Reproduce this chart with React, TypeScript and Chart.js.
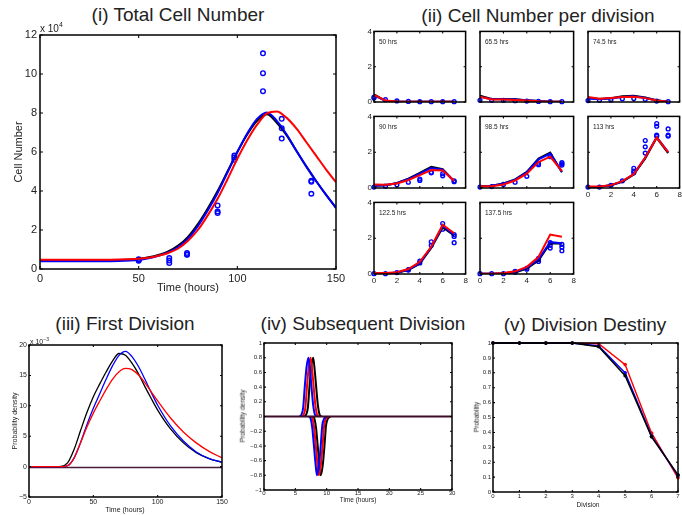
import React, { useEffect, useRef } from 'react';
import { Chart, registerables } from 'chart.js';
Chart.register(...registerables);

const FONT = '"Liberation Sans", Arial, Helvetica, sans-serif';
const BLUE = '#0000ff';
const RED = '#ff0000';
const BLACK = '#000000';
const TXT = '#222222';

// ---------- (i) Total Cell Number (units of 1e4) ----------
const totalTime = [0, 10, 20, 30, 40, 50, 55, 60, 65, 70, 75, 80, 85, 90, 95, 100, 105, 110, 115, 120, 125, 130, 135, 140, 145, 150];
const totalBlack = [0.45, 0.45, 0.45, 0.45, 0.46, 0.52, 0.6, 0.72, 0.9, 1.2, 1.65, 2.3, 3.1, 4.0, 5.0, 6.0, 6.9, 7.6, 7.93, 7.5, 6.85, 6.05, 5.25, 4.5, 3.8, 3.15];
const totalBlue = [0.4, 0.4, 0.4, 0.4, 0.41, 0.47, 0.55, 0.68, 0.85, 1.12, 1.55, 2.2, 3.0, 3.9, 4.95, 6.0, 6.95, 7.7, 8.03, 7.6, 6.9, 6.05, 5.25, 4.5, 3.8, 3.12];
const totalRed = [0.48, 0.48, 0.48, 0.48, 0.49, 0.53, 0.58, 0.68, 0.82, 1.05, 1.45, 2.0, 2.75, 3.6, 4.6, 5.65, 6.6, 7.4, 7.98, 8.08, 7.75, 7.2, 6.5, 5.8, 5.1, 4.45];
const obsTime = [50, 65.5, 74.5, 90, 98.5, 113, 122.5, 137.5];
const obsTotal = [
  [0.5, 0.45, 0.42],
  [0.56, 0.43, 0.31],
  [0.82, 0.73, 0.75],
  [3.26, 2.95, 2.87],
  [5.82, 5.72, 5.6],
  [11.06, 10.04, 9.12],
  [7.7, 7.22, 6.69],
  [4.52, 4.47, 3.86],
];

// ---------- (ii) Cell Number per division ----------
const divisions = [0, 1, 2, 3, 4, 5, 6, 7];
const perDivLabels = ['50 hrs', '65.5 hrs', '74.5 hrs', '90 hrs', '98.5 hrs', '113 hrs', '122.5 hrs', '137.5 hrs'];
const perDivBlack = [
  [0.43, 0.06, 0.02, 0.02, 0.02, 0.02, 0.02, 0.02],
  [0.35, 0.17, 0.17, 0.15, 0.1, 0.05, 0.02, 0.01],
  [0.22, 0.17, 0.22, 0.32, 0.35, 0.25, 0.1, 0.02],
  [0.12, 0.15, 0.28, 0.52, 0.85, 1.18, 1.05, 0.38],
  [0.1, 0.12, 0.25, 0.48, 0.9, 1.65, 1.98, 0.88],
  [0.05, 0.07, 0.15, 0.35, 0.75, 1.65, 2.8, 1.95],
  [0.02, 0.03, 0.07, 0.22, 0.58, 1.45, 2.6, 2.15],
  [0.02, 0.02, 0.03, 0.08, 0.3, 0.75, 1.72, 1.7],
];
const perDivBlue = [
  [0.38, 0.07, 0.02, 0.02, 0.02, 0.02, 0.02, 0.02],
  [0.3, 0.15, 0.15, 0.14, 0.1, 0.05, 0.02, 0.01],
  [0.2, 0.15, 0.2, 0.28, 0.32, 0.23, 0.09, 0.02],
  [0.12, 0.15, 0.27, 0.5, 0.8, 1.12, 1.02, 0.38],
  [0.1, 0.12, 0.24, 0.46, 0.88, 1.6, 1.92, 0.9],
  [0.05, 0.07, 0.15, 0.37, 0.78, 1.7, 2.85, 2.0],
  [0.02, 0.03, 0.08, 0.24, 0.62, 1.5, 2.68, 2.2],
  [0.02, 0.02, 0.04, 0.12, 0.34, 0.82, 1.78, 1.72],
];
const perDivRed = [
  [0.4, 0.08, 0.03, 0.02, 0.02, 0.02, 0.02, 0.02],
  [0.3, 0.14, 0.14, 0.12, 0.08, 0.04, 0.02, 0.01],
  [0.28, 0.18, 0.22, 0.28, 0.3, 0.22, 0.08, 0.02],
  [0.2, 0.18, 0.25, 0.45, 0.72, 1.0, 0.98, 0.4],
  [0.1, 0.1, 0.2, 0.42, 0.8, 1.45, 1.75, 0.95],
  [0.08, 0.08, 0.16, 0.38, 0.78, 1.7, 2.82, 2.0],
  [0.05, 0.05, 0.1, 0.28, 0.68, 1.52, 2.75, 2.28],
  [0.02, 0.02, 0.05, 0.15, 0.4, 0.95, 2.2, 2.08],
];
const perDivObs = [
  [[0.28, 0.22], [0.13], [0.06], [0.03], [0.02], [0.02], [0.02], [0.02]],
  [[0.1], [0.1], [0.1], [0.07], [0.05], [0.03], [0.02], [0.02]],
  [[0.08], [0.1], [0.12], [0.18], [0.2], [0.15], [0.05], [0.02]],
  [[0.05], [0.1], [0.18], [0.32], [0.5, 0.42], [0.88, 0.85], [0.8, 0.68], [0.4, 0.35]],
  [[0.05], [0.08], [0.2], [0.32], [0.65], [1.38, 1.3], [1.8, 1.75], [1.42, 1.35, 1.28]],
  [[0.05], [0.05], [0.15], [0.4], [1.1, 0.95, 0.85], [2.65, 2.3, 1.95], [3.6, 3.45, 2.95, 2.9], [3.3, 2.95, 2.9]],
  [[0.02], [0.02], [0.08], [0.25, 0.22], [0.72, 0.62], [1.8, 1.6], [2.82, 2.5], [2.2, 2.1, 1.75]],
  [[0.02], [0.02], [0.02], [0.15, 0.1], [0.32, 0.27], [0.88, 0.8, 0.7], [1.75, 1.6, 1.45], [1.65, 1.5, 1.3]],
];

// ---------- (iii) First Division (units of 1e-3) ----------
const firstTime = [0, 20, 25, 30, 35, 40, 45, 50, 55, 60, 65, 70, 75, 80, 85, 90, 95, 100, 110, 120, 130, 140, 150];
const firstBlack = [0, 0, 0.05, 0.6, 2.8, 5.9, 8.9, 11.5, 13.6, 15.6, 17.4, 18.6, 18.3, 17.0, 15.3, 13.2, 11.2, 9.3, 6.2, 3.9, 2.3, 1.3, 0.7];
const firstBlue = [0, 0, 0, 0.15, 1.4, 3.9, 6.9, 9.6, 12.0, 14.4, 16.6, 18.3, 18.95, 18.1, 16.5, 14.4, 12.2, 10.1, 6.7, 4.2, 2.4, 1.3, 0.7];
const firstRed = [0, 0, 0, 0.15, 1.4, 3.9, 6.5, 8.8, 10.8, 12.7, 14.4, 15.6, 16.15, 15.95, 15.1, 13.8, 12.3, 10.8, 8.0, 5.7, 3.9, 2.5, 1.45];
const firstBaseTime = [0, 150];
const firstBaseline = [-0.15, -0.15];

// ---------- (iv) Subsequent Division ----------
const subUpY = [0, 0.03, 0.12, 0.4, 0.68, 0.8, 0.62, 0.38, 0.15, 0.03, 0];
const subDownY = [0, -0.03, -0.15, -0.38, -0.62, -0.8, -0.68, -0.4, -0.12, -0.03, 0];
const subBlueUpT = [5.7, 6.0, 6.25, 6.5, 6.8, 7.1, 7.35, 7.6, 7.85, 8.1, 8.4];
const subRedUpT = [6.05, 6.35, 6.6, 6.85, 7.15, 7.45, 7.7, 7.95, 8.2, 8.45, 8.75];
const subBlackUpT = [6.45, 6.75, 7.0, 7.25, 7.55, 7.85, 8.1, 8.35, 8.6, 8.85, 9.15];
const subBlueDownT = [7.15, 7.45, 7.7, 7.95, 8.2, 8.45, 8.75, 9.05, 9.3, 9.6, 10.0];
const subRedDownT = [7.45, 7.75, 8.0, 8.25, 8.5, 8.75, 9.05, 9.35, 9.6, 9.9, 10.3];
const subBlackDownT = [7.75, 8.05, 8.3, 8.55, 8.8, 9.05, 9.35, 9.65, 9.9, 10.2, 10.6];
const subBaseTime = [0, 30];
const subBaseline = [0, 0];

// ---------- (v) Division Destiny ----------
const destinyDiv = [0, 1, 2, 3, 4, 5, 6, 7];
const destinyBlack = [1, 1, 1, 1, 0.975, 0.78, 0.37, 0.115];
const destinyBlue = [1, 1, 1, 1, 0.98, 0.8, 0.375, 0.11];
const destinyRed = [1, 1, 1, 1, 0.995, 0.855, 0.395, 0.095];

// ---------- helpers ----------
const xy = (xs: number[], ys: number[]) => xs.map((x, i) => ({ x, y: ys[i] }));
const fmt = (v: number) => String(Math.round(v * 1000) / 1000).replace('-', '\u2212');

const line = (data: any[], color: string, width: number, smooth = true) => ({
  data,
  borderColor: color,
  backgroundColor: color,
  borderWidth: width,
  pointRadius: 0,
  fill: false,
  cubicInterpolationMode: smooth ? 'monotone' : 'default',
  tension: 0,
});
const circles = (data: any[], color: string, r: number, bw: number) => ({
  data,
  showLine: false,
  pointRadius: r,
  pointStyle: 'circle',
  pointBorderColor: color,
  pointBackgroundColor: 'rgba(0,0,0,0)',
  pointBorderWidth: bw,
  borderColor: color,
  clip: false,
});
const markerLine = (data: any[], color: string, width: number, r: number) => ({
  data,
  borderColor: color,
  backgroundColor: color,
  borderWidth: width,
  pointRadius: r,
  pointBackgroundColor: color,
  pointBorderColor: color,
  pointBorderWidth: 0,
  fill: false,
  tension: 0,
  clip: false,
});

const framePlugin = {
  id: 'frame',
  afterDatasetsDraw(chart: any, _args: any, opts: any) {
    const { ctx, chartArea: a, scales } = chart;
    ctx.save();
    ctx.strokeStyle = '#000';
    ctx.lineWidth = opts.lw || 1;
    const L = opts.tick || 0;
    if (L > 0) {
      ctx.beginPath();
      for (const t of scales.x.ticks) {
        const px = scales.x.getPixelForValue(t.value);
        ctx.moveTo(px, a.bottom); ctx.lineTo(px, a.bottom - L);
        ctx.moveTo(px, a.top); ctx.lineTo(px, a.top + L);
      }
      for (const t of scales.y.ticks) {
        const py = scales.y.getPixelForValue(t.value);
        ctx.moveTo(a.left, py); ctx.lineTo(a.left + L, py);
        ctx.moveTo(a.right, py); ctx.lineTo(a.right - L, py);
      }
      ctx.lineWidth = Math.max(1, (opts.lw || 1) * 0.7);
      ctx.stroke();
      ctx.lineWidth = opts.lw || 1;
    }
    ctx.strokeRect(a.left, a.top, a.right - a.left, a.bottom - a.top);
    ctx.restore();
  },
};

interface AxisSpec { min: number; max: number; step: number; show: boolean; }
interface PanelSpec {
  l: number; t: number; r: number; b: number;
  yW: number; xH: number; padT: number; padR: number;
  x: AxisSpec; y: AxisSpec;
  fs: number; xPad: number; yPad: number; tick: number; frameW: number;
  datasets: any[];
}

function makeAxis(a: AxisSpec, p: PanelSpec, horizontal: boolean) {
  return {
    type: 'linear',
    position: horizontal ? 'bottom' : 'left',
    min: a.min,
    max: a.max,
    ticks: {
      stepSize: a.step,
      display: a.show,
      autoSkip: false,
      maxRotation: 0,
      minRotation: 0,
      padding: horizontal ? p.xPad : p.yPad,
      color: TXT,
      font: { family: FONT, size: p.fs },
      callback: (v: number) => fmt(v),
    },
    grid: { display: false, drawTicks: false },
    border: { display: false },
    afterFit: (s: any) => {
      if (horizontal) s.height = p.xH; else s.width = p.yW;
      s.paddingLeft = 0; s.paddingRight = 0; s.paddingTop = 0; s.paddingBottom = 0;
    },
  };
}

function Plot({ p }: { p: PanelSpec }) {
  const ref = useRef<HTMLCanvasElement>(null);
  const W = p.r - p.l + p.yW + p.padR;
  const H = p.b - p.t + p.padT + p.xH;
  useEffect(() => {
    const chart = new Chart(ref.current as HTMLCanvasElement, {
      type: 'line',
      data: { datasets: p.datasets },
      plugins: [framePlugin],
      options: {
        responsive: false,
        maintainAspectRatio: false,
        animation: false,
        events: [],
        layout: { padding: { left: 0, top: p.padT, right: p.padR, bottom: 0 } },
        plugins: {
          legend: { display: false },
          tooltip: { enabled: false },
          frame: { tick: p.tick, lw: p.frameW },
        },
        scales: { x: makeAxis(p.x, p, true), y: makeAxis(p.y, p, false) },
      } as any,
    } as any);
    return () => chart.destroy();
  }, []);
  return (
    <canvas
      ref={ref}
      width={W}
      height={H}
      style={{ position: 'absolute', left: p.l - p.yW, top: p.t - p.padT, width: W, height: H }}
    />
  );
}

function Txt({ x, y, size, rotate, children, anchor }: any) {
  const tr = anchor === 'start' ? 'translate(0,-50%)' : 'translate(-50%,-50%)';
  return (
    <div
      style={{
        position: 'absolute',
        left: x,
        top: y,
        transform: rotate ? `${tr} rotate(-90deg)` : tr,
        fontFamily: FONT,
        fontSize: size,
        lineHeight: 1,
        whiteSpace: 'nowrap',
        color: TXT,
      }}
    >
      {children}
    </div>
  );
}

// ---------- panel specs ----------
const panelI: PanelSpec = {
  l: 40, t: 35, r: 336, b: 269, yW: 40, xH: 16, padT: 6, padR: 14,
  x: { min: 0, max: 150, step: 50, show: true },
  y: { min: 0, max: 12, step: 2, show: true },
  fs: 11, xPad: 3, yPad: 3, tick: 3, frameW: 1.5,
  datasets: [
    line(xy(totalTime, totalRed), RED, 2),
    line(xy(totalTime, totalBlue), BLUE, 2),
    line(xy(totalTime, totalBlack), BLACK, 2),
    circles(obsTime.flatMap((t, i) => obsTotal[i].map((v) => ({ x: t, y: v }))), BLUE, 2.3, 1.4),
  ],
};

const colsII = [[374, 467], [480, 575], [588, 681]];
const rowsII = [[31, 102], [116, 188], [202, 274]];
const panelsII: PanelSpec[] = perDivLabels.map((_, i) => {
  const row = Math.floor(i / 3);
  const col = i % 3;
  return {
    l: colsII[col][0], r: colsII[col][1], t: rowsII[row][0], b: rowsII[row][1],
    yW: 12, xH: 12, padT: 5, padR: 4,
    x: { min: 0, max: 8, step: 2, show: i >= 5 },
    y: { min: 0, max: 4, step: 2, show: col === 0 },
    fs: 8, xPad: 2, yPad: 2, tick: 2, frameW: 1.5,
    datasets: [
      line(xy(divisions, perDivRed[i]), RED, 2, false),
      line(xy(divisions, perDivBlue[i]), BLUE, 2, false),
      line(xy(divisions, perDivBlack[i]), BLACK, 2, false),
      circles(divisions.flatMap((d) => perDivObs[i][d].map((v) => ({ x: d, y: v }))), BLUE, 1.9, 1.4),
    ],
  };
});

const panelIII: PanelSpec = {
  l: 29, t: 345, r: 222, b: 497, yW: 29, xH: 10, padT: 4, padR: 6,
  x: { min: 0, max: 150, step: 50, show: true },
  y: { min: -5, max: 20, step: 5, show: true },
  fs: 7, xPad: 1, yPad: 2, tick: 2, frameW: 1.5,
  datasets: [
    line(xy(firstTime, firstRed), RED, 1.3),
    line(xy(firstTime, firstBlue), BLUE, 1.3),
    line(xy(firstTime, firstBlack), BLACK, 1.3),
    line(xy(firstBaseTime, firstBaseline), '#4a1a3a', 1.5, false),
  ],
};

const panelIV: PanelSpec = {
  l: 264, t: 343, r: 452, b: 490, yW: 22, xH: 10, padT: 4, padR: 6,
  x: { min: 0, max: 30, step: 5, show: true },
  y: { min: -1, max: 1, step: 0.2, show: true },
  fs: 6, xPad: 0, yPad: 2, tick: 2, frameW: 1.5,
  datasets: [
    line(xy(subBaseTime, subBaseline), '#3d0d2a', 2, false),
    line(xy(subBlueUpT, subUpY), BLUE, 2),
    line(xy(subBlueDownT, subDownY), BLUE, 2),
    line(xy(subRedUpT, subUpY), RED, 2),
    line(xy(subRedDownT, subDownY), RED, 2),
    line(xy(subBlackUpT, subUpY), BLACK, 2),
    line(xy(subBlackDownT, subDownY), BLACK, 2),
  ],
};

const panelV: PanelSpec = {
  l: 493, t: 343, r: 681, b: 492, yW: 20, xH: 10, padT: 4, padR: 1,
  x: { min: 0, max: 7, step: 1, show: true },
  y: { min: 0, max: 1, step: 0.1, show: true },
  fs: 6, xPad: 1, yPad: 2, tick: 2, frameW: 1.5,
  datasets: [
    markerLine(xy(destinyDiv, destinyBlack), BLACK, 1.5, 1.8),
    markerLine(xy(destinyDiv, destinyBlue), BLUE, 1.5, 1.8),
    markerLine(xy(destinyDiv, destinyRed), RED, 1.5, 1.8),
  ],
};

export default function App() {
  return (
    <div
      style={{
        position: 'fixed', left: 0, top: 0, width: 682, height: 515,
        background: '#fff', overflow: 'hidden',
      }}
    >
      <Txt x={178} y={14} size={19}>(i) Total Cell Number</Txt>
      <Txt x={538} y={15} size={19}>(ii) Cell Number per division</Txt>
      <Txt x={125} y={323} size={19}>(iii) First Division</Txt>
      <Txt x={363} y={323} size={19}>(iv) Subsequent Division</Txt>
      <Txt x={585} y={324} size={19}>(v) Division Destiny</Txt>

      <Plot p={panelI} />
      <Txt x={40} y={29} size={10} anchor="start">
        x 10<span style={{ fontSize: 7, position: 'relative', top: -5 }}>4</span>
      </Txt>
      <Txt x={17.5} y={152} size={11} rotate>Cell Number</Txt>
      <Txt x={188} y={287} size={11}>Time (hours)</Txt>

      {panelsII.map((p, i) => (
        <Plot key={i} p={p} />
      ))}
      {panelsII.map((p, i) => (
        <Txt key={'l' + i} x={p.l + 5} y={p.t + 11} size={6.5} anchor="start">{perDivLabels[i]}</Txt>
      ))}

      <Plot p={panelIII} />
      <Txt x={30} y={341} size={7} anchor="start">
        x 10<span style={{ fontSize: 5, position: 'relative', top: -3 }}>{'\u2212'}3</span>
      </Txt>
      <Txt x={14} y={421} size={7} rotate>Probability density</Txt>
      <Txt x={125} y={509} size={7}>Time (hours)</Txt>

      <Plot p={panelIV} />
      <Txt x={243} y={416} size={6.5} rotate>Probability density</Txt>
      <Txt x={358} y={499.5} size={6.5}>Time (hours)</Txt>

      <Plot p={panelV} />
      <Txt x={477} y={417} size={6.5} rotate>Probability</Txt>
      <Txt x={588} y={505} size={6.5}>Division</Txt>
    </div>
  );
}
